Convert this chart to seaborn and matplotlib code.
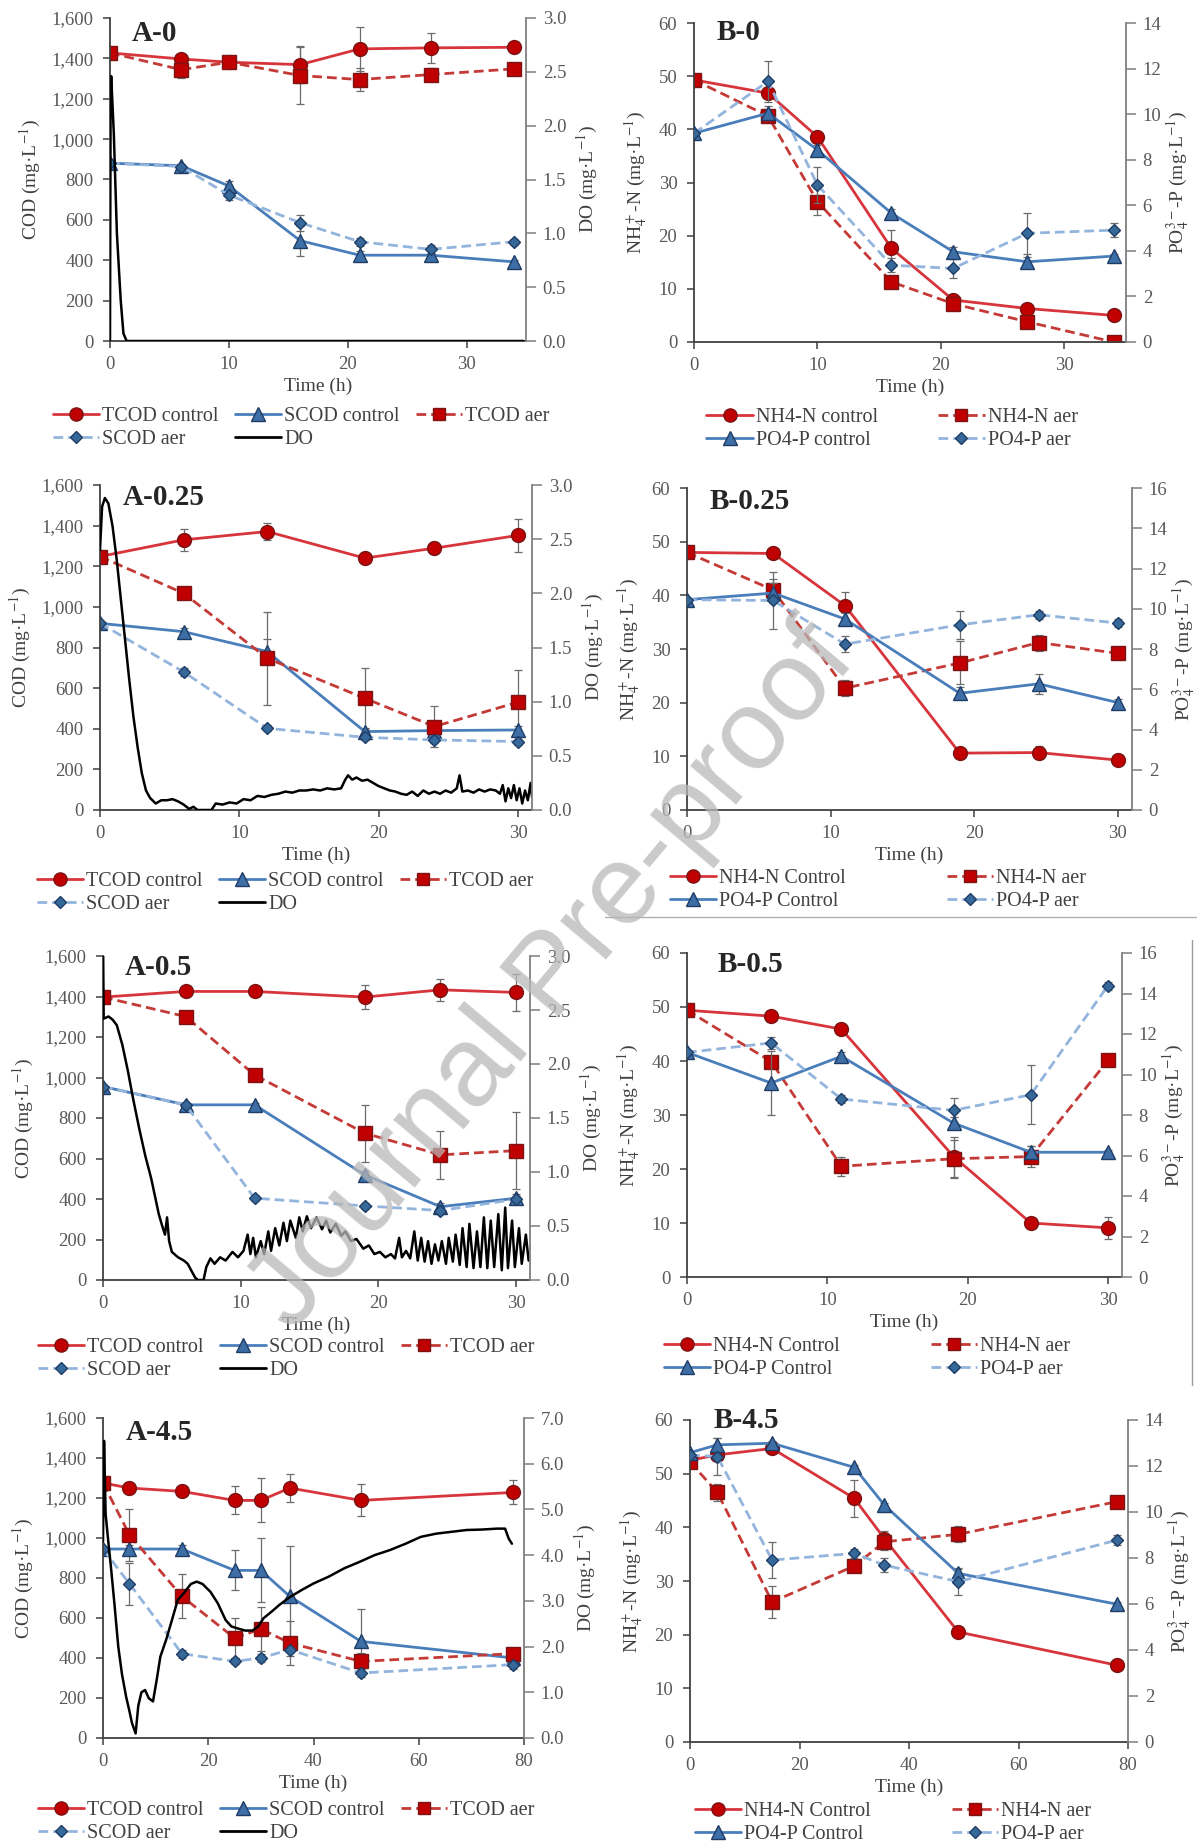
import matplotlib
matplotlib.use('Agg')
import matplotlib.pyplot as plt
import seaborn as sns
from matplotlib.lines import Line2D
from matplotlib.ticker import StrMethodFormatter, MultipleLocator

sns.set_style('ticks')
plt.rcParams['font.family'] = ['Liberation Serif', 'DejaVu Serif']
plt.rcParams['mathtext.fontset'] = 'stix'

W, H = 1197, 1841

# ---------------- panel A data (COD, DO) ----------------
a0_t = [0, 6, 10, 16, 21, 27, 34]
a0_tcod_c = [1427, 1397, 1381, 1369, 1447, 1452, 1455]
a0_tcod_c_err = [0, 20, 15, 90, 110, 75, 25]
a0_tcod_a = [1427, 1344, 1381, 1315, 1295, 1320, 1348]
a0_tcod_a_err = [0, 40, 20, 140, 55, 30, 25]
a0_scod_c = [881, 868, 768, 497, 425, 425, 392]
a0_scod_c_err = [0, 10, 25, 75, 20, 20, 10]
a0_scod_a = [881, 864, 723, 586, 492, 454, 492]
a0_scod_a_err = [0, 10, 25, 40, 20, 20, 15]
a0_do = [(0, 0.0), (0.05, 2.3), (0.1, 2.46), (0.32, 1.93), (0.58, 1.0), (0.9, 0.38),
         (1.13, 0.07), (1.4, 0.0), (34.8, 0.0)]

a25_t = [0, 6, 12, 19, 24, 30]
a25_tcod_c = [1248, 1330, 1371, 1240, 1289, 1352]
a25_tcod_c_err = [0, 55, 40, 20, 30, 80]
a25_tcod_a = [1248, 1067, 747, 550, 411, 531]
a25_tcod_a_err = [0, 20, 230, 150, 100, 160]
a25_scod_c = [919, 878, 780, 386, 391, 394]
a25_scod_c_err = [0, 20, 60, 20, 15, 20]
a25_scod_a = [919, 680, 402, 358, 345, 337]
a25_scod_a_err = [0, 20, 15, 15, 15, 15]
a25_do = [(0, 2.40), (0.15, 2.80), (0.35, 2.88), (0.6, 2.83), (0.9, 2.62), (1.2, 2.31),
          (1.5, 1.94), (1.8, 1.57), (2.1, 1.20), (2.4, 0.86), (2.7, 0.58), (3.0, 0.34),
          (3.3, 0.18), (3.6, 0.11), (4.0, 0.06), (4.4, 0.09), (4.8, 0.09), (5.2, 0.10),
          (5.6, 0.08), (6.0, 0.05), (6.4, 0.01), (6.7, 0.03), (7.0, 0.0), (8.0, 0.0),
          (8.3, 0.06), (8.8, 0.05), (9.3, 0.07), (9.8, 0.06), (10.3, 0.10), (10.8, 0.09),
          (11.3, 0.13), (11.8, 0.12), (12.3, 0.14), (12.8, 0.15), (13.3, 0.17), (13.8, 0.16),
          (14.3, 0.18), (14.8, 0.18), (15.3, 0.19), (15.8, 0.18), (16.3, 0.20), (16.8, 0.19),
          (17.3, 0.20), (17.6, 0.28), (17.8, 0.32), (18.1, 0.28), (18.4, 0.30), (18.8, 0.27),
          (19.2, 0.28), (19.6, 0.25), (20.0, 0.22), (20.4, 0.20), (20.8, 0.18), (21.2, 0.17),
          (21.6, 0.15), (22.0, 0.14), (22.4, 0.17), (22.8, 0.13), (23.2, 0.18), (23.6, 0.15),
          (24.0, 0.17), (24.4, 0.15), (24.8, 0.18), (25.2, 0.16), (25.6, 0.20), (25.8, 0.32),
          (26.0, 0.17), (26.4, 0.18), (26.8, 0.16), (27.2, 0.19), (27.6, 0.17), (28.0, 0.19),
          (28.4, 0.18), (28.7, 0.15), (28.9, 0.23), (29.1, 0.08), (29.3, 0.20), (29.5, 0.11),
          (29.7, 0.23), (29.9, 0.09), (30.1, 0.20), (30.3, 0.06), (30.5, 0.18), (30.7, 0.09),
          (30.9, 0.25), (31.0, 0.12)]

a5_t = [0, 6, 11, 19, 24.5, 30]
a5_tcod_c = [1397, 1425, 1425, 1397, 1433, 1420]
a5_tcod_c_err = [0, 15, 15, 60, 55, 90]
a5_tcod_a = [1397, 1301, 1013, 725, 618, 639]
a5_tcod_a_err = [0, 20, 20, 140, 120, 190]
a5_scod_c = [955, 865, 865, 519, 362, 404]
a5_scod_c_err = [0, 10, 10, 20, 20, 20]
a5_scod_a = [955, 865, 404, 366, 343, 399]
a5_scod_a_err = [0, 10, 15, 15, 15, 15]
a5_do = [(0, 3.2), (0.05, 2.42), (0.4, 2.44), (0.7, 2.41), (1.0, 2.36), (1.4, 2.18),
         (1.8, 1.94), (2.2, 1.67), (2.65, 1.39), (3.07, 1.15), (3.5, 0.94), (3.8, 0.76),
         (4.05, 0.61), (4.3, 0.50), (4.5, 0.42), (4.65, 0.58), (4.8, 0.36), (5.0, 0.26),
         (5.45, 0.21), (5.87, 0.18), (6.15, 0.15), (6.4, 0.09), (6.7, 0.02), (6.9, 0.0),
         (7.3, 0.0), (7.5, 0.12), (7.8, 0.20), (8.1, 0.15), (8.5, 0.21), (8.9, 0.18),
         (9.4, 0.26), (9.8, 0.21), (10.2, 0.27), (10.5, 0.42), (10.7, 0.24), (10.9, 0.39),
         (11.1, 0.21), (11.45, 0.36), (11.7, 0.24), (12.0, 0.45), (12.2, 0.27), (12.5, 0.48),
         (12.8, 0.32), (13.1, 0.53), (13.35, 0.36), (13.6, 0.55), (14.0, 0.39), (14.25, 0.58),
         (14.5, 0.45), (14.8, 0.59), (15.1, 0.48), (15.5, 0.58), (15.9, 0.47), (16.2, 0.55),
         (16.5, 0.44), (16.9, 0.52), (17.3, 0.41), (17.6, 0.45), (18.0, 0.36), (18.4, 0.38),
         (18.9, 0.29), (19.3, 0.32), (19.7, 0.24), (20.1, 0.26), (20.5, 0.21), (20.9, 0.24),
         (21.2, 0.20), (21.5, 0.39), (21.7, 0.21), (22.0, 0.27), (22.3, 0.20), (22.6, 0.45),
         (22.85, 0.18), (23.1, 0.39), (23.35, 0.17), (23.6, 0.36), (23.85, 0.15), (24.1, 0.33),
         (24.35, 0.18), (24.6, 0.36), (24.9, 0.15), (25.1, 0.39), (25.4, 0.17), (25.6, 0.42),
         (25.9, 0.14), (26.1, 0.48), (26.4, 0.12), (26.6, 0.52), (26.9, 0.11), (27.15, 0.45),
         (27.4, 0.12), (27.65, 0.58), (27.9, 0.11), (28.15, 0.55), (28.4, 0.12), (28.7, 0.61),
         (28.95, 0.09), (29.2, 0.67), (29.4, 0.11), (29.7, 0.55), (29.9, 0.12), (30.2, 0.48),
         (30.4, 0.15), (30.7, 0.42), (30.9, 0.18)]

a45_t = [0, 5, 15, 25, 30, 35.5, 49, 78]
a45_tcod_c = [1275, 1250, 1233, 1188, 1188, 1250, 1188, 1228]
a45_tcod_c_err = [0, 30, 25, 70, 110, 70, 80, 60]
a45_tcod_a = [1275, 1017, 708, 500, 545, 475, 383, 422]
a45_tcod_a_err = [0, 130, 110, 100, 110, 110, 40, 30]
a45_scod_c = [945, 945, 945, 838, 838, 708, 483, 400]
a45_scod_c_err = [0, 20, 20, 100, 160, 250, 160, 20]
a45_scod_a = [945, 772, 422, 383, 400, 442, 325, 367]
a45_scod_a_err = [0, 105, 20, 15, 20, 30, 20, 20]
a45_do = [(0, 4.3), (0.2, 6.5), (0.5, 4.9), (1.0, 4.3), (1.5, 3.75), (2.2, 2.9), (2.9, 2.0),
          (3.6, 1.4), (4.4, 0.9), (5.0, 0.6), (5.5, 0.33), (6.2, 0.1), (6.7, 0.7), (7.3, 1.0),
          (8.0, 1.05), (8.7, 0.87), (9.5, 0.8), (10.2, 1.27), (10.9, 1.78), (12.0, 2.15),
          (13.1, 2.58), (14.2, 3.02), (15.3, 3.16), (16.7, 3.37), (17.8, 3.42), (18.9, 3.37),
          (20.4, 3.2), (21.8, 2.95), (23.3, 2.58), (24.4, 2.44), (25.5, 2.4), (27.0, 2.35),
          (28.4, 2.35), (29.5, 2.44), (30.5, 2.62), (32.0, 2.76), (33.5, 2.91), (35.6, 3.09),
          (37.8, 3.24), (40.0, 3.38), (42.9, 3.53), (45.8, 3.71), (48.7, 3.85), (51.6, 4.0),
          (54.5, 4.11), (57.5, 4.25), (60.4, 4.4), (63.3, 4.47), (66.2, 4.51), (69.1, 4.55),
          (72.0, 4.56), (74.9, 4.58), (76.4, 4.58), (77.1, 4.36), (77.7, 4.25)]

# ---------------- panel B data (NH4-N, PO4-P) ----------------
b0_t = [0, 6, 10, 16, 21, 27, 34]
b0_nh4_c = [49.3, 46.8, 38.6, 17.6, 7.9, 6.3, 5.0]
b0_nh4_c_err = [0, 1, 1, 3.5, 1, 1, 0.5]
b0_nh4_a = [49.3, 42.5, 26.4, 11.3, 7.2, 3.8, 0]
b0_nh4_a_err = [0, 1, 2.5, 1, 0.5, 1, 0]
b0_po4_c = [9.16, 10.04, 8.43, 5.65, 3.96, 3.52, 3.77]
b0_po4_c_err = [0, 0.3, 0.2, 0.2, 0.2, 0.2, 0.1]
b0_po4_a = [9.16, 11.44, 6.89, 3.37, 3.23, 4.77, 4.91]
b0_po4_a_err = [0, 0.9, 0.8, 0.3, 0.4, 0.9, 0.3]

b25_t = [0, 6, 11, 19, 24.5, 30]
b25_nh4_c = [48.0, 47.8, 38.1, 10.6, 10.7, 9.3]
b25_nh4_c_err = [0, 0.5, 2.5, 1, 1.2, 1]
b25_nh4_a = [48.0, 41.0, 22.7, 27.4, 31.2, 29.2]
b25_nh4_a_err = [0, 2, 1.5, 4, 1.5, 0.5]
b25_po4_c = [10.45, 10.78, 9.49, 5.80, 6.27, 5.34]
b25_po4_c_err = [0, 0.5, 0.3, 0.3, 0.5, 0.2]
b25_po4_a = [10.45, 10.41, 8.24, 9.20, 9.70, 9.29]
b25_po4_a_err = [0, 1.4, 0.4, 0.7, 0.2, 0.2]

b5_t = [0, 6, 11, 19, 24.5, 30]
b5_nh4_c = [49.4, 48.3, 45.9, 22.3, 10.0, 9.1]
b5_nh4_c_err = [0, 0.5, 0.5, 3.7, 0.5, 2.0]
b5_nh4_a = [49.4, 39.9, 20.5, 21.9, 22.3, 40.1]
b5_nh4_a_err = [0, 1, 1.8, 3.5, 2, 0.5]
b5_po4_c = [11.09, 9.58, 10.90, 7.60, 6.16, 6.16]
b5_po4_c_err = [0, 1.6, 0.2, 0.3, 0.3, 0.1]
b5_po4_a = [11.09, 11.56, 8.79, 8.23, 9.00, 14.39]
b5_po4_a_err = [0, 0.3, 0.2, 0.6, 1.45, 0.2]

b45_t = [0, 5, 15, 30, 35.5, 49, 78]
b45_nh4_c = [52.5, 53.5, 54.7, 45.4, 37.9, 20.5, 14.3]
b45_nh4_c_err = [0, 0.5, 0.5, 3.5, 1.5, 0.5, 0.5]
b45_nh4_a = [52.2, 46.5, 26.1, 32.8, 37.3, 38.7, 44.8]
b45_nh4_a_err = [0, 1.5, 3, 1, 1.5, 1.5, 0.5]
b45_po4_c = [12.58, 12.92, 12.99, 11.94, 10.30, 7.33, 5.99]
b45_po4_c_err = [0, 0.3, 0.1, 0.1, 0.1, 0.2, 0.1]
b45_po4_a = [12.48, 12.41, 7.91, 8.20, 7.69, 6.97, 8.78]
b45_po4_a_err = [0, 0.8, 0.8, 0.2, 0.3, 0.6, 0.2]

a_labels = ['TCOD control', 'SCOD control', 'TCOD aer', 'SCOD aer', 'DO']
b0_labels = ['NH4-N control', 'NH4-N aer', 'PO4-P control', 'PO4-P aer']
b_labels = ['NH4-N Control', 'NH4-N aer', 'PO4-P Control', 'PO4-P aer']

# styles
RED = '#d7353b'
RED_D = '#c43a36'
RED_MK = '#c00000'
RED_EDGE = '#7a1515'
BLUE = '#4a7ebb'
BLUE_MK = '#3d6fa6'
LBLUE = '#93b4dc'
DIA_MK = '#36699a'
NAVY = '#1f3c66'
TICK_C = '#595959'
SPINE_C = '#404040'

STY = {
    'rc': dict(color=RED, ls='-', marker='o', ms=10, mfc=RED_MK, mec=RED_EDGE),
    'ra': dict(color=RED_D, ls=(0, (3.5, 1.8)), marker='s', ms=9.5, mfc=RED_MK, mec=RED_EDGE),
    'bc': dict(color=BLUE, ls='-', marker='^', ms=10, mfc=BLUE_MK, mec=NAVY),
    'ba': dict(color=LBLUE, ls=(0, (3.5, 1.8)), marker='D', ms=6.5, mfc=DIA_MK, mec=NAVY),
}

fig = plt.figure(figsize=(W / 100, H / 100), dpi=100)


def frame(l, r, t, b):
    return [l / W, 1 - b / H, (r - l) / W, (b - t) / H]


def series(ax, t, y, err, key):
    s = STY[key]
    ax.errorbar(t, y, yerr=err, fmt='none', ecolor='#6b6b6b', elinewidth=0.9,
                capsize=3, capthick=0.9, zorder=1)
    sns.lineplot(x=t, y=y, ax=ax, errorbar=None, color=s['color'], linestyle=s['ls'],
                 linewidth=2.0, marker=s['marker'], markersize=s['ms'],
                 markerfacecolor=s['mfc'], markeredgecolor=s['mec'], markeredgewidth=1.0)


def handle(key):
    s = STY[key]
    return Line2D([], [], color=s['color'], ls=s['ls'], lw=2.0, marker=s['marker'],
                  ms=s['ms'] * 0.95, mfc=s['mfc'], mec=s['mec'])


def style_axes(ax, ax2, xmax, xstep, ymax, ystep, y2max, y2step, fmt1, fmt2, ylab, y2lab,
               rpad):
    ax.set_xlim(0, xmax)
    ax.set_ylim(0, ymax)
    ax2.set_ylim(0, y2max)
    ax.xaxis.set_major_locator(MultipleLocator(xstep))
    ax.yaxis.set_major_locator(MultipleLocator(ystep))
    ax2.yaxis.set_major_locator(MultipleLocator(y2step))
    ax.yaxis.set_major_formatter(StrMethodFormatter(fmt1))
    ax2.yaxis.set_major_formatter(StrMethodFormatter(fmt2))
    ax.spines['top'].set_visible(False)
    ax.spines['right'].set_visible(False)
    for sp in ['top', 'left', 'bottom']:
        ax2.spines[sp].set_visible(False)
    for sp in ['left', 'bottom']:
        ax.spines[sp].set_color(SPINE_C)
        ax.spines[sp].set_linewidth(1.3)
    ax2.spines['right'].set_color('#7f7f7f')
    ax2.spines['right'].set_linewidth(1.3)
    ax.tick_params(axis='both', direction='out', length=5, width=1.1, colors=SPINE_C,
                   labelcolor=TICK_C, labelsize=13.5)
    ax.tick_params(axis='y', pad=7)
    ax.tick_params(axis='x', pad=6)
    ax2.tick_params(axis='y', direction='out', length=7, width=1.1, colors='#7f7f7f',
                    labelcolor=TICK_C, labelsize=13.5, pad=5)
    ax.set_xlabel('Time (h)', fontsize=14, color='#404040', labelpad=3)
    ax.set_ylabel(ylab, fontsize=14, color='#404040', labelpad=6)
    ax2.set_ylabel(y2lab, fontsize=14, color='#404040', labelpad=rpad, rotation=90)
    ax.set_facecolor('none')


def panel_a(rect, t, tc, tce, ta, tae, sc, sce, sa, sae, do, xmax, xstep, do_max, do_step,
            title, tpos, leg):
    ax = fig.add_axes(frame(*rect))
    ax2 = ax.twinx()
    series(ax, t, tc, tce, 'rc')
    series(ax, t, sc, sce, 'bc')
    series(ax, t, ta, tae, 'ra')
    series(ax, t, sa, sae, 'ba')
    sns.lineplot(x=[p[0] for p in do], y=[p[1] for p in do], ax=ax2, errorbar=None,
                 sort=False, color='black', linewidth=1.8)
    style_axes(ax, ax2, xmax, xstep, 1600, 200, do_max, do_step, '{x:,.0f}', '{x:.1f}',
               'COD (mg·L$^{-1}$)', 'DO (mg·L$^{-1}$)', 6)
    ax.text(tpos[0], tpos[1], title, transform=ax.transAxes, fontsize=21,
            fontweight='bold', va='center', ha='left', zorder=10)
    hs = [handle('rc'), handle('ba'), handle('bc'),
          Line2D([], [], color='black', lw=2.0), handle('ra')]
    ls = [a_labels[0], a_labels[3], a_labels[1], a_labels[4], a_labels[2]]
    fig.legend(hs, ls, loc='center', bbox_to_anchor=(leg[0] / W, 1 - leg[1] / H), ncol=3,
               frameon=False, fontsize=14.5, handlelength=2.3, handletextpad=0.15,
               columnspacing=0.8, labelspacing=0.2, borderpad=0, labelcolor='#404040')


def panel_b(rect, t, nc, nce, na, nae, pc, pce, pa, pae, xmax, xstep, p_max, labels,
            title, tpos, leg, colsp):
    ax = fig.add_axes(frame(*rect))
    ax2 = ax.twinx()
    series(ax, t, nc, nce, 'rc')
    series(ax, t, na, nae, 'ra')
    series(ax2, t, pc, pce, 'bc')
    series(ax2, t, pa, pae, 'ba')
    style_axes(ax, ax2, xmax, xstep, 60, 10, p_max, 2, '{x:.0f}', '{x:.0f}',
               'NH$_4^+$-N (mg·L$^{-1}$)', 'PO$_4^{3-}$-P (mg·L$^{-1}$)', 2)
    ax.text(tpos[0], tpos[1], title, transform=ax.transAxes, fontsize=21,
            fontweight='bold', va='center', ha='left', zorder=10)
    hs = [handle('rc'), handle('bc'), handle('ra'), handle('ba')]
    ls = [labels[0], labels[2], labels[1], labels[3]]
    fig.legend(hs, ls, loc='center', bbox_to_anchor=(leg[0] / W, 1 - leg[1] / H), ncol=2,
               frameon=False, fontsize=14.5, handlelength=2.3, handletextpad=0.15,
               columnspacing=colsp, labelspacing=0.2, borderpad=0, labelcolor='#404040')


panel_a((110, 526, 18, 341), a0_t, a0_tcod_c, a0_tcod_c_err, a0_tcod_a, a0_tcod_a_err,
        a0_scod_c, a0_scod_c_err, a0_scod_a, a0_scod_a_err, a0_do, 35, 10, 3.0, 0.5,
        'A-0', (0.053, 0.953), (301, 428))
panel_b((694, 1126, 23, 342), b0_t, b0_nh4_c, b0_nh4_c_err, b0_nh4_a, b0_nh4_a_err,
        b0_po4_c, b0_po4_c_err, b0_po4_a, b0_po4_a_err, 35, 10, 14, b0_labels,
        'B-0', (0.053, 0.969), (892, 429), 3.0)

panel_a((100, 532, 485, 810), a25_t, a25_tcod_c, a25_tcod_c_err, a25_tcod_a, a25_tcod_a_err,
        a25_scod_c, a25_scod_c_err, a25_scod_a, a25_scod_a_err, a25_do, 31, 10, 3.0, 0.5,
        'A-0.25', (0.053, 0.963), (285, 893))
panel_b((687, 1132, 488, 810), b25_t, b25_nh4_c, b25_nh4_c_err, b25_nh4_a, b25_nh4_a_err,
        b25_po4_c, b25_po4_c_err, b25_po4_a, b25_po4_a_err, 31, 10, 16, b_labels,
        'B-0.25', (0.05, 0.957), (878, 890), 5.0)

panel_a((103, 530, 956, 1280), a5_t, a5_tcod_c, a5_tcod_c_err, a5_tcod_a, a5_tcod_a_err,
        a5_scod_c, a5_scod_c_err, a5_scod_a, a5_scod_a_err, a5_do, 31, 10, 3.0, 0.5,
        'A-0.5', (0.05, 0.966), (286, 1359))
panel_b((687, 1122, 953, 1277), b5_t, b5_nh4_c, b5_nh4_c_err, b5_nh4_a, b5_nh4_a_err,
        b5_po4_c, b5_po4_c_err, b5_po4_a, b5_po4_a_err, 31, 10, 16, b_labels,
        'B-0.5', (0.07, 0.963), (867, 1358), 4.5)

panel_a((103, 524, 1418, 1738), a45_t, a45_tcod_c, a45_tcod_c_err, a45_tcod_a, a45_tcod_a_err,
        a45_scod_c, a45_scod_c_err, a45_scod_a, a45_scod_a_err, a45_do, 80, 20, 7.0, 1.0,
        'A-4.5', (0.055, 0.956), (286, 1822))
panel_b((690, 1128, 1420, 1742), b45_t, b45_nh4_c, b45_nh4_c_err, b45_nh4_a, b45_nh4_a_err,
        b45_po4_c, b45_po4_c_err, b45_po4_a, b45_po4_a_err, 80, 20, 14, b_labels,
        'B-4.5', (0.053, 1.0), (893, 1823), 4.0)

# thin separator lines around the right-hand panels
fig.add_artist(Line2D([605 / W, 1.0], [1 - 917 / H, 1 - 917 / H], color='#b0b0b0', lw=1.0))
fig.add_artist(Line2D([1192 / W, 1192 / W], [1 - 940 / H, 1 - 1385 / H], color='#9a9a9a', lw=1.0))

# watermark
fig.text(0.462, 0.469, 'Journal Pre-proof', rotation=50, ha='center', va='center',
         fontsize=82, family='Liberation Sans', color='#b8b8b8', alpha=0.75, zorder=100)

fig.savefig('out.png', dpi=100, facecolor='white')
